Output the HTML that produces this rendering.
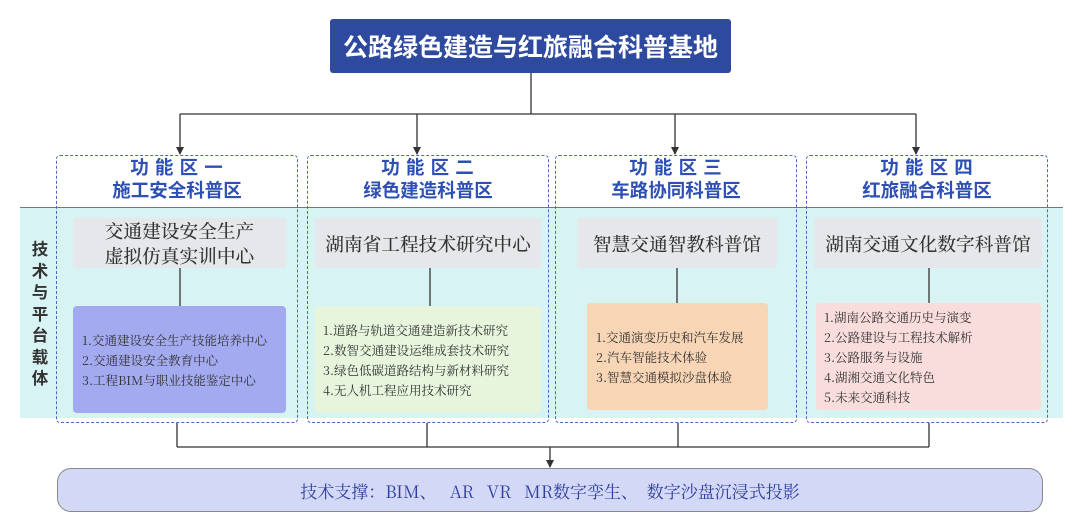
<!DOCTYPE html>
<html><head><meta charset="utf-8"><style>
body{margin:0;width:1080px;height:529px;background:#fff;position:relative;overflow:hidden;font-family:"Liberation Sans","Noto Sans CJK SC",sans-serif}
.a{position:absolute;box-sizing:border-box}
.title{left:330px;top:19px;width:401px;height:54px;background:#2e4a9f;border-radius:3px;color:#fff;font-weight:bold;font-size:25px;display:flex;align-items:center;justify-content:center;font-family:"Noto Sans CJK SC",sans-serif}
.band{left:20px;top:207px;width:1043px;height:211px;background:#d8f3f3;border-top:1px solid #777}
.zone{top:155px;width:242px;height:268px;border:1.3px dashed #4a67c8;border-radius:4px}
.zh{width:242px;text-align:center;color:#2e4fb4;font-weight:bold;font-size:18.5px;line-height:23px;font-family:"Noto Sans CJK SC",sans-serif}
.zh span{letter-spacing:1px}
.gb{background:#e5e7ea;border-radius:3px;color:#333;font-family:"Noto Serif CJK SC","Liberation Serif",serif;font-size:18.7px;line-height:25px;display:flex;align-items:center;justify-content:center;text-align:center;top:218px;height:50px;font-weight:500}
.lb{border-radius:4px;color:#333;font-family:"Noto Serif CJK SC","Liberation Serif",serif;font-size:12.5px;line-height:20px;display:flex;flex-direction:column;justify-content:center;padding-left:9px;white-space:nowrap}
.vl{left:27px;top:238px;width:26px;font-weight:bold;font-size:16.5px;line-height:21.5px;color:#333;text-align:center;font-family:"Noto Sans CJK SC",sans-serif}
.pill{left:57px;top:468px;width:986px;height:44px;background:#d3d8f7;border:1px solid #888;border-radius:14px;color:#2e3f9c;font-family:"Noto Serif CJK SC","Liberation Serif",serif;font-size:17px;display:flex;align-items:center;justify-content:center;white-space:pre}
</style></head><body>
<div class="a band"></div>
<div class="a vl">技<br>术<br>与<br>平<br>台<br>载<br>体</div>
<div class="a zone" style="left:56px"></div>
<div class="a zone" style="left:307px"></div>
<div class="a zone" style="left:555px"></div>
<div class="a zone" style="left:806px"></div>
<div class="a zh" style="left:56px;top:156px"><span>功 能 区 一</span><br>施工安全科普区</div>
<div class="a zh" style="left:307px;top:156px"><span>功 能 区 二</span><br>绿色建造科普区</div>
<div class="a zh" style="left:555px;top:156px"><span>功 能 区 三</span><br>车路协同科普区</div>
<div class="a zh" style="left:806px;top:156px"><span>功 能 区 四</span><br>红旅融合科普区</div>
<div class="a title">公路绿色建造与红旅融合科普基地</div>
<div class="a gb" style="left:73px;width:213px">交通建设安全生产<br>虚拟仿真实训中心</div>
<div class="a gb" style="left:315px;width:226px">湖南省工程技术研究中心</div>
<div class="a gb" style="left:577px;width:200px">智慧交通智教科普馆</div>
<div class="a gb" style="left:814px;width:228px">湖南交通文化数字科普馆</div>
<div class="a lb" style="left:73px;top:306px;width:213px;height:107px;background:#a3aaf0">1.交通建设安全生产技能培养中心<br>2.交通建设安全教育中心<br>3.工程BIM与职业技能鉴定中心</div>
<div class="a lb" style="left:315px;top:306px;width:226px;height:107px;background:#e7f5dc;padding-left:8px">1.道路与轨道交通建造新技术研究<br>2.数智交通建设运维成套技术研究<br>3.绿色低碳道路结构与新材料研究<br>4.无人机工程应用技术研究</div>
<div class="a lb" style="left:587px;top:303px;width:181px;height:107px;background:#f8d5b5">1.交通演变历史和汽车发展<br>2.汽车智能技术体验<br>3.智慧交通模拟沙盘体验</div>
<div class="a lb" style="left:816px;top:303px;width:225px;height:107px;background:#f9dcdc;padding-left:8px">1.湖南公路交通历史与演变<br>2.公路建设与工程技术解析<br>3.公路服务与设施<br>4.湖湘交通文化特色<br>5.未来交通科技</div>
<svg class="a" style="left:0;top:0" width="1080" height="529">
<defs><marker id="ar" markerWidth="8" markerHeight="8" refX="7" refY="4" orient="auto" markerUnits="userSpaceOnUse"><path d="M0,0 L8,4 L0,8 z" fill="#333"/></marker></defs>
<g stroke="#333" stroke-width="1.3" fill="none">
<line x1="531" y1="73" x2="531" y2="114"/>
<line x1="180" y1="114" x2="916" y2="114"/>
<line x1="180" y1="114" x2="180" y2="154" marker-end="url(#ar)"/>
<line x1="417" y1="114" x2="417" y2="154" marker-end="url(#ar)"/>
<line x1="675" y1="114" x2="675" y2="154" marker-end="url(#ar)"/>
<line x1="916" y1="114" x2="916" y2="154" marker-end="url(#ar)"/>
<line x1="180" y1="268" x2="180" y2="306"/>
<line x1="430" y1="268" x2="430" y2="306"/>
<line x1="677" y1="268" x2="677" y2="303"/>
<line x1="929" y1="268" x2="929" y2="303"/>
<line x1="177" y1="423" x2="177" y2="447"/>
<line x1="427" y1="423" x2="427" y2="447"/>
<line x1="678" y1="423" x2="678" y2="447"/>
<line x1="929" y1="423" x2="929" y2="447"/>
<line x1="177" y1="447" x2="929" y2="447"/>
<line x1="550" y1="447" x2="550" y2="467" marker-end="url(#ar)"/>
</g></svg>
<div class="a pill">技术支撑：BIM、   AR   VR   MR数字孪生、  数字沙盘沉浸式投影</div>
</body></html>
